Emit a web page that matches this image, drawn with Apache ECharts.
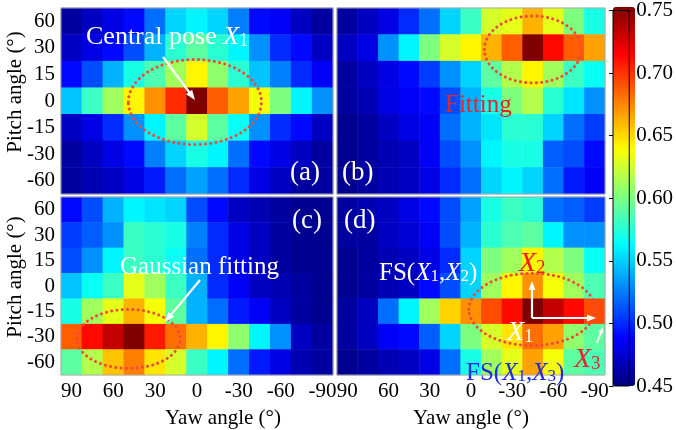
<!DOCTYPE html>
<html><head><meta charset="utf-8">
<script src="https://cdn.jsdelivr.net/npm/echarts@6/dist/echarts.min.js"></script>
<style>html,body{margin:0;padding:0;background:#fff}#c{width:676px;height:430px}</style>
</head><body><div id="c"></div>
<script>
// ---- data ----
const yawLabels = ['90','75','60','45','30','15','0','-15','-30','-45','-60','-75','-90'];
const pitchLabels = ['60','30','15','0','-15','-30','-60'];
const colorMin = 0.45, colorMax = 0.75, colorStep = 0.05;

const panelA = [
  [0.46,0.47,0.48,0.49,0.52,0.55,0.56,0.55,0.525,0.49,0.485,0.47,0.46],
  [0.47,0.48,0.49,0.51,0.54,0.575,0.59,0.575,0.56,0.53,0.50,0.49,0.47],
  [0.49,0.51,0.54,0.57,0.585,0.61,0.64,0.605,0.575,0.545,0.525,0.50,0.485],
  [0.545,0.58,0.61,0.64,0.67,0.70,0.75,0.685,0.665,0.635,0.60,0.56,0.53],
  [0.47,0.48,0.50,0.53,0.56,0.59,0.625,0.59,0.565,0.53,0.50,0.49,0.47],
  [0.46,0.47,0.48,0.49,0.525,0.55,0.57,0.56,0.52,0.49,0.48,0.47,0.46],
  [0.46,0.465,0.47,0.48,0.495,0.52,0.535,0.52,0.50,0.48,0.47,0.46,0.46]
];
const panelB = [
  [0.46,0.47,0.48,0.50,0.52,0.55,0.58,0.625,0.63,0.66,0.63,0.60,0.57],
  [0.47,0.48,0.53,0.56,0.60,0.625,0.64,0.66,0.685,0.75,0.71,0.685,0.665],
  [0.46,0.47,0.48,0.49,0.505,0.53,0.55,0.59,0.615,0.64,0.61,0.58,0.565],
  [0.46,0.465,0.48,0.485,0.49,0.51,0.54,0.57,0.60,0.615,0.575,0.555,0.53],
  [0.455,0.46,0.47,0.48,0.485,0.52,0.54,0.555,0.575,0.575,0.55,0.52,0.505],
  [0.455,0.46,0.465,0.47,0.485,0.51,0.53,0.56,0.57,0.57,0.515,0.51,0.49],
  [0.455,0.46,0.465,0.47,0.48,0.50,0.52,0.55,0.56,0.55,0.52,0.495,0.485]
];
const panelC = [
  [0.49,0.51,0.54,0.56,0.555,0.55,0.51,0.49,0.47,0.465,0.46,0.455,0.455],
  [0.505,0.515,0.53,0.58,0.575,0.57,0.525,0.50,0.48,0.47,0.46,0.455,0.455],
  [0.51,0.53,0.56,0.58,0.575,0.565,0.52,0.50,0.48,0.47,0.46,0.455,0.455],
  [0.545,0.565,0.58,0.63,0.61,0.58,0.54,0.50,0.485,0.47,0.465,0.46,0.455],
  [0.57,0.61,0.63,0.66,0.635,0.59,0.54,0.52,0.495,0.485,0.47,0.46,0.455],
  [0.685,0.71,0.73,0.75,0.705,0.68,0.66,0.64,0.605,0.56,0.53,0.47,0.46],
  [0.59,0.615,0.655,0.675,0.645,0.625,0.58,0.56,0.52,0.495,0.48,0.465,0.46]
];
const panelD = [
  [0.46,0.465,0.47,0.48,0.49,0.51,0.535,0.57,0.58,0.575,0.52,0.515,0.505],
  [0.46,0.46,0.47,0.475,0.485,0.51,0.54,0.575,0.585,0.59,0.56,0.53,0.53],
  [0.455,0.46,0.465,0.47,0.48,0.50,0.55,0.60,0.61,0.64,0.615,0.60,0.565],
  [0.455,0.46,0.465,0.47,0.49,0.51,0.55,0.61,0.64,0.67,0.635,0.61,0.585],
  [0.46,0.47,0.52,0.56,0.61,0.65,0.67,0.69,0.71,0.75,0.73,0.71,0.69],
  [0.46,0.47,0.485,0.49,0.515,0.55,0.60,0.625,0.645,0.68,0.665,0.605,0.59],
  [0.455,0.46,0.465,0.47,0.48,0.52,0.57,0.61,0.63,0.665,0.635,0.59,0.585]
];
const panels = [panelA, panelB, panelC, panelD];

// ---- chart ----
const FONT = 'Liberation Serif';
const jet = ['#00007F','#0000FF','#007FFF','#00FFFF','#7FFF7F','#FFFF00','#FF7F00','#FF0000','#7F0000'];
const gridBoxes = [
  {left:61, top:8, width:272, height:186},
  {left:337, top:8, width:268, height:186},
  {left:61, top:197, width:272, height:187},
  {left:337, top:197, width:268, height:187}
];
const chart = echarts.init(document.getElementById('c'), null, {renderer:'canvas'});

const grid = gridBoxes.map(b => Object.assign({show:true, borderColor:'#a8a8a8', borderWidth:1, backgroundColor:'transparent', z:3}, b));
grid.push({left:613, top:7, width:22, height:379, show:true, borderColor:'#000', borderWidth:1, backgroundColor:'transparent', z:6});

const xAxis = gridBoxes.map((b,i) => ({
  type:'category', gridIndex:i, data:yawLabels,
  axisLine:{show:false},
  axisTick:{show:true, inside:true, alignWithLabel:true, length:3, interval:0, lineStyle:{color:'#555'}},
  axisLabel:{show:i>=2, interval:1, fontFamily:FONT, fontSize:21, color:'#000', margin:6},
  splitLine:{show:false},
  name: i>=2 ? 'Yaw angle (°)' : '',
  nameLocation:'middle', nameGap:33, nameMoveOverlap:false,
  nameTextStyle:{fontFamily:FONT, fontSize:21, color:'#000', padding: i===2 ? [0,0,0,52] : 0}
}));
xAxis.push({type:'value', gridIndex:4, show:false, min:0, max:1});

const yAxis = gridBoxes.map((b,i) => ({
  type:'category', gridIndex:i, data:pitchLabels, inverse:true,
  axisLine:{show:false},
  axisTick:{show:true, inside:true, alignWithLabel:true, length:3, interval:0, lineStyle:{color:'#555'}},
  axisLabel:{show:(i%2===0), interval:0, fontFamily:FONT, fontSize:21, color:'#000', margin:6},
  splitLine:{show:false},
  name: (i%2===0) ? 'Pitch angle (°)' : '',
  nameLocation:'middle', nameGap:35, nameMoveOverlap:false,
  nameTextStyle:{fontFamily:FONT, fontSize:21, color:'#000', padding:[0,0,0,18]}
}));
yAxis.push({
  type:'value', gridIndex:4, position:'right', min:colorMin, max:colorMax, interval:colorStep,
  axisLine:{show:false},
  axisTick:{show:true, inside:true, length:4, lineStyle:{color:'#000'}},
  axisLabel:{fontFamily:FONT, fontSize:21, color:'#000', margin:7, padding:[8,0,0,0], formatter:v=>v.toFixed(2)},
  splitLine:{show:false}
});

const series = panels.map((p,i) => {
  const d = [];
  p.forEach((row,r) => row.forEach((v,c) => d.push([c, r, v])));
  return {type:'heatmap', xAxisIndex:i, yAxisIndex:i, data:d, progressive:0, emphasis:{disabled:true}, z:2};
});

chart.setOption({
  animation:false,
  grid, xAxis, yAxis, series,
  visualMap:{
    type:'continuous', min:colorMin, max:colorMax, seriesIndex:[0,1,2,3],
    calculable:false, hoverLink:false, showLabel:false, text:null,
    left:613, top:7, itemWidth:22, itemHeight:379, padding:0,
    inRange:{color:jet}
  }
});

// ---- annotations ----
function cellPx(gi, c, r){
  const p0 = chart.convertToPixel({gridIndex:gi}, [0,0]);
  const p1 = chart.convertToPixel({gridIndex:gi}, [1,1]);
  const cw = p1[0]-p0[0], rh = p1[1]-p0[1];
  return {x:p0[0]+c*cw, y:p0[1]+r*rh, cw:Math.abs(cw), rh:Math.abs(rh)};
}
function ellipse(gi, c, r, rc, rr){
  const p = cellPx(gi, c, r);
  return {type:'ellipse', z:100, silent:true,
    shape:{cx:p.x, cy:p.y, rx:rc*p.cw, ry:rr*p.rh},
    style:{fill:'transparent', stroke:'#ee4b3a', lineWidth:3, lineDash:[0.1,5.2], lineCap:'round'}};
}
function arrow(x1,y1,x2,y2,color,w,hl){
  const dx=x2-x1, dy=y2-y1, L=Math.hypot(dx,dy), ux=dx/L, uy=dy/L;
  hl = hl||9; const hw = hl*0.38;
  const bx=x2-ux*hl, by=y2-uy*hl;
  return [
    {type:'line', z:100, silent:true, shape:{x1:x1,y1:y1,x2:bx+ux*1,y2:by+uy*1}, style:{stroke:color, lineWidth:w}},
    {type:'polygon', z:100, silent:true, shape:{points:[[x2,y2],[bx-uy*hw,by+ux*hw],[bx+uy*hw,by-ux*hw]]}, style:{fill:color}}
  ];
}
function rich(size, color){
  return {
    n:{fontFamily:FONT, fontSize:size, color:color, verticalAlign:'bottom', lineHeight:size},
    i:{fontFamily:FONT, fontSize:size, fontStyle:'italic', color:color, verticalAlign:'bottom', lineHeight:size},
    s:{fontFamily:FONT, fontSize:Math.round(size*0.68), color:color, verticalAlign:'bottom', lineHeight:Math.round(size*0.68)}
  };
}
function label(x, y, text, size, color, align){
  return {type:'text', z:101, silent:true, x:x, y:y,
    style:{text:text, rich:rich(size,color), fontFamily:FONT, fontSize:size, fill:color,
      align:align||'left', verticalAlign:'middle'}};
}

const g = [];
g.push(ellipse(0, 5.9, 3.04, 3.18, 1.6));
g.push(ellipse(1, 9.0, 1.06, 2.35, 1.26));
g.push(ellipse(2, 2.73, 5.08, 2.46, 1.16));
g.push(ellipse(3, 8.96, 3.92, 3.06, 1.42));

g.push(...arrow(163,57,195,100,'#fff',2.2,10));
g.push(...arrow(200,280,165,322,'#fff',2.2,10));
g.push(...arrow(532,318,532,281,'#fff',2.2,9));
g.push(...arrow(532,318,596,318,'#fff',2.2,9));
g.push(...arrow(597,343,603,327,'#fff',2,6));

g.push(label(86, 37, '{n|Central pose }{i|X}{s|1}', 26, '#fff'));
g.push(label(445, 105, '{n|Fitting}', 25, '#e3242b'));
g.push(label(120, 267, '{n|Gaussian fitting}', 25, '#fff'));
g.push(label(379, 273, '{n|FS(}{i|X}{s|1}{n|,}{i|X}{s|2}{n|)}', 25, '#fff'));
g.push(label(519, 264, '{i|X}{s|2}', 28, '#ee1c1c'));
g.push(label(507, 333, '{i|X}{s|1}', 28, '#fff'));
g.push(label(574, 360, '{i|X}{s|3}', 28, '#e3242b'));
g.push(label(466, 373, '{n|FS(}{i|X}{s|1}{n|,}{i|X}{s|3}{n|)}', 25, '#1a2de0'));
g.push(label(290, 173, '{n|(a)}', 27, '#fff'));
g.push(label(342, 173, '{n|(b)}', 27, '#fff'));
g.push(label(292, 221, '{n|(c)}', 27, '#fff'));
g.push(label(344, 221, '{n|(d)}', 27, '#fff'));

chart.setOption({graphic: g});
</script></body></html>
